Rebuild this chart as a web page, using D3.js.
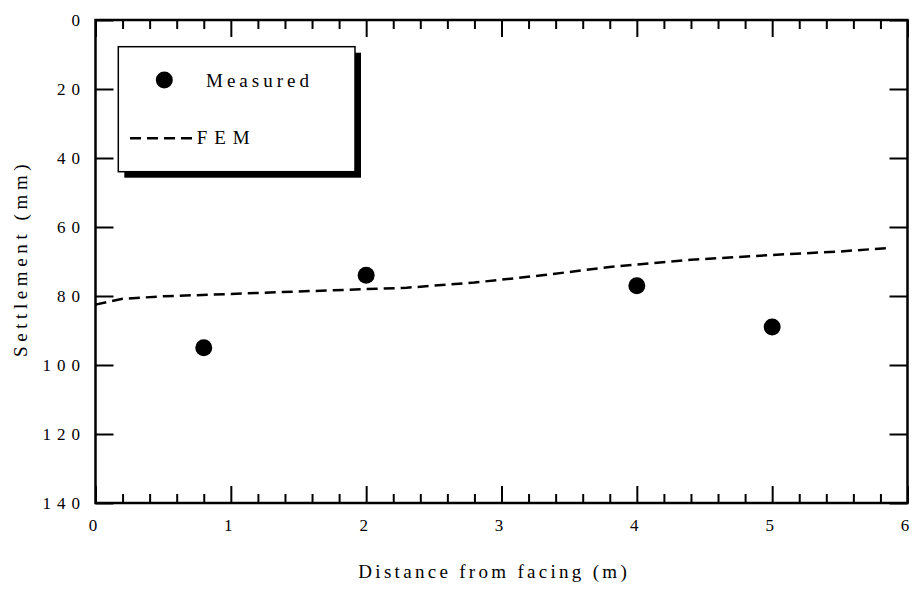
<!DOCTYPE html>
<html>
<head>
<meta charset="utf-8">
<script src="https://cdn.jsdelivr.net/npm/d3@7"></script>
<style>
  html, body { margin: 0; padding: 0; background: #fff; }
  svg { display: block; }
  svg text { font-family: "Liberation Serif", "DejaVu Serif", "Times New Roman", Times, serif !important; fill: #000; }
</style>
</head>
<body>
<svg id="chart" width="912" height="593"></svg>
<script>
// ---- data ----
const measuredX = [0.8, 2, 4, 5];
const measuredY = [95, 74, 77, 89];
const femX = [0, 0.2, 0.5, 1.0, 1.5, 2.0, 2.3, 2.8, 3.3, 3.8, 4.4, 5.0, 5.5, 5.85];
const femY = [82.5, 80.8, 80.1, 79.4, 78.7, 78.0, 77.6, 76.1, 74.0, 71.6, 69.5, 68.1, 67.1, 66.1];
const xTicks = [0, 1, 2, 3, 4, 5, 6];
const xMinorTicks = d3.range(0, 30).map(i => i * 0.2).filter(v => Math.abs(v - Math.round(v)) > 1e-6);
const yTicks = [0, 20, 40, 60, 80, 100, 120, 140];
const xTitle = "Distance from facing (m)";
const yTitle = "Settlement (mm)";
const legendLabels = ["Measured", "FEM"];

// ---- layout ----
const FONT = '"Liberation Serif", "DejaVu Serif", "Times New Roman", Times, serif';
const svg = d3.select("#chart");
const L = 95.5, R = 907.5, T = 20, B = 503;
const x = d3.scaleLinear().domain([0, 6]).range([L, R]);
const y = d3.scaleLinear().domain([0, 140]).range([T, B]);

const axisStyle = g => {
  g.attr("font-family", FONT);
  g.select(".domain").remove();
  g.selectAll(".tick line").attr("stroke", "#000").attr("stroke-width", 2);
  g.selectAll(".tick text").attr("font-family", FONT)
    .style("font-size", "17px").style("letter-spacing", "6px").attr("fill", "#000");
};

// bottom major
svg.append("g").attr("transform", `translate(0,${B})`)
  .call(d3.axisBottom(x).tickValues(xTicks).tickSize(-17).tickPadding(16).tickFormat(d3.format("d")))
  .call(axisStyle);
// bottom minor
svg.append("g").attr("transform", `translate(0,${B})`)
  .call(d3.axisBottom(x).tickValues(xMinorTicks).tickSize(-9).tickFormat(""))
  .call(axisStyle);
// top major/minor
svg.append("g").attr("transform", `translate(0,${T})`)
  .call(d3.axisTop(x).tickValues(xTicks).tickSize(-17).tickFormat(""))
  .call(axisStyle);
svg.append("g").attr("transform", `translate(0,${T})`)
  .call(d3.axisTop(x).tickValues(xMinorTicks).tickSize(-9).tickFormat(""))
  .call(axisStyle);
// left
svg.append("g").attr("transform", `translate(${L},0)`)
  .call(d3.axisLeft(y).tickValues(yTicks).tickSize(-18).tickPadding(9.5).tickFormat(d3.format("d")))
  .call(axisStyle);
// right
svg.append("g").attr("transform", `translate(${R},0)`)
  .call(d3.axisRight(y).tickValues(yTicks).tickSize(-18).tickFormat(""))
  .call(axisStyle);

// frame
svg.append("rect").attr("x", L).attr("y", T).attr("width", R - L).attr("height", B - T)
  .attr("fill", "none").attr("stroke", "#000").attr("stroke-width", 2.5);

// FEM line
const line = d3.line().x((d, i) => x(femX[i])).y((d, i) => y(femY[i]));
svg.append("path").datum(femY).attr("d", line)
  .attr("fill", "none").attr("stroke", "#000").attr("stroke-width", 2.5)
  .attr("stroke-dasharray", "11,6");

// measured points
svg.append("g").selectAll("circle").data(measuredX).join("circle")
  .attr("cx", (d) => x(d)).attr("cy", (d, i) => y(measuredY[i])).attr("r", 8.5)
  .attr("fill", "#000");

// titles
svg.append("text").attr("x", 358.3).attr("y", 578).attr("font-family", FONT)
  .style("font-size", "19px").style("letter-spacing", "3.3px").text(xTitle);
svg.append("text").attr("transform", "translate(27,357) rotate(-90)").attr("font-family", FONT)
  .style("font-size", "19px").style("letter-spacing", "4.6px").text(yTitle);

// legend
const lg = svg.append("g");
lg.append("rect").attr("x", 124.3).attr("y", 52.7).attr("width", 236.7).attr("height", 125).attr("fill", "#000");
lg.append("rect").attr("x", 118.3).attr("y", 46.7).attr("width", 236.7).attr("height", 125)
  .attr("fill", "#fff").attr("stroke", "#000").attr("stroke-width", 1.5);
lg.append("circle").attr("cx", 164.3).attr("cy", 80).attr("r", 8.5).attr("fill", "#000");
lg.append("text").attr("x", 206).attr("y", 86.5).attr("font-family", FONT)
  .style("font-size", "19px").style("letter-spacing", "4px").text(legendLabels[0]);
lg.append("line").attr("x1", 130).attr("x2", 192).attr("y1", 138.3).attr("y2", 138.3)
  .attr("stroke", "#000").attr("stroke-width", 2.5).attr("stroke-dasharray", "11,6");
lg.append("text").attr("x", 196.7).attr("y", 143.5).attr("font-family", FONT)
  .style("font-size", "19px").style("letter-spacing", "7px").text(legendLabels[1]);
</script>
</body>
</html>
